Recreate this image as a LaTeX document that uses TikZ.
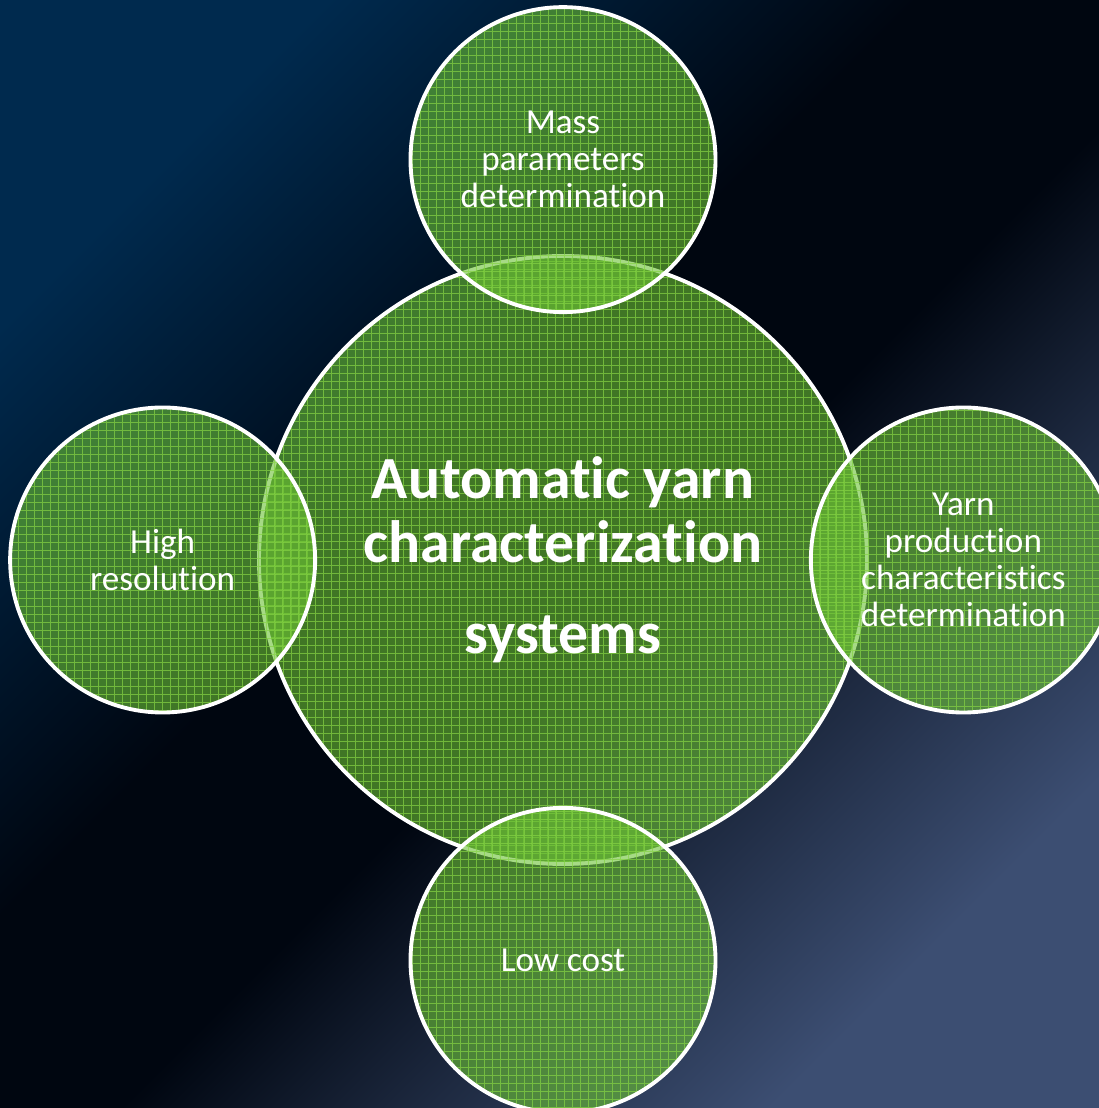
\documentclass[tikz,border=0pt]{standalone}
\usepackage{fontspec}
\setmainfont{Carlito}[Ligatures=NoCommon]
\usepackage{xcolor}
\usetikzlibrary{positioning}

\definecolor{bgtop}{HTML}{002A4E}
\definecolor{bgmid}{HTML}{000610}
\definecolor{bgbot}{HTML}{3C4E72}
\definecolor{discfill}{HTML}{6CC234}
\definecolor{discgrid}{HTML}{86D444}

\pgfdeclareverticalshading{backdrop}{100bp}{color(0bp)=(bgbot); color(25bp)=(bgbot); color(36bp)=(bgbot!50!bgmid); color(46bp)=(bgmid); color(56bp)=(bgmid); color(75bp)=(bgtop); color(100bp)=(bgtop)}

\begin{document}
\begin{tikzpicture}[
    node distance=-1.2cm,
    disc/.style={circle, draw=white, line width=2.2pt, fill=discfill, fill opacity=0.6, text opacity=1, text=white, align=center, inner sep=0pt,
        path picture={\draw[discgrid, draw opacity=0.7, line width=0.6pt] (path picture bounding box.south west) grid[step=0.16cm] (path picture bounding box.north east);}},
    hub/.style={disc, minimum size=12.16cm, font=\bfseries\fontsize{34}{36}\selectfont},
    spoke/.style={disc, minimum size=6.1cm, font=\fontsize{20}{21}\selectfont}
]
    \useasboundingbox (0,0) rectangle (21.98,22.16);
    \shade[shading=backdrop, shading angle=45] (0,0) rectangle (21.98,22.16);

    \node[hub] (core) at (11.26,10.96) {Automatic yarn\\characterization\\[16pt]systems};

    % outer circles overlap the core
    \node[spoke, above=of core] (mass) {Mass\\parameters\\determination};
    \node[spoke, left=of core] (resol) {High\\resolution};
    \node[spoke, right=of core] (prod) {Yarn\\production\\characteristics\\determination};
    \node[spoke, below=of core] (cost) {Low cost};

\end{tikzpicture}
\end{document}
